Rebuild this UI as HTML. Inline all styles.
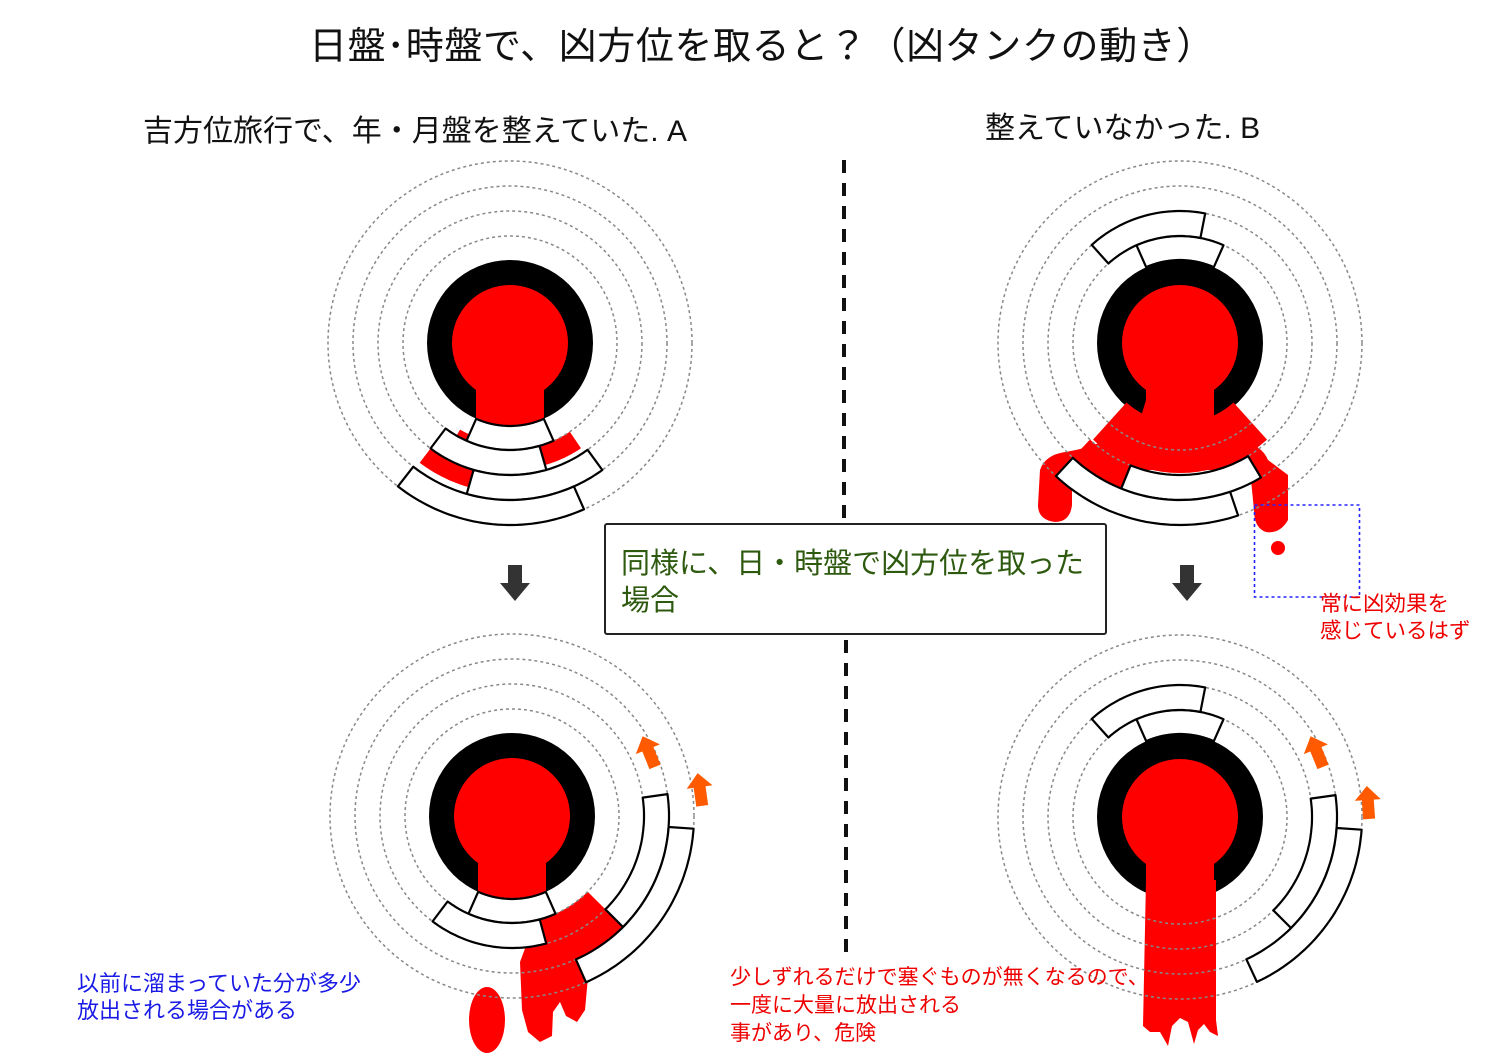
<!DOCTYPE html>
<html><head><meta charset="utf-8">
<style>
html,body{margin:0;padding:0;background:#fff;}
body{width:1500px;height:1061px;position:relative;overflow:hidden;font-family:"Liberation Sans","Noto Sans CJK JP",sans-serif;}
.t{position:absolute;white-space:nowrap;line-height:1;}
svg{position:absolute;left:0;top:0;}
</style></head><body>
<svg id="s" width="1500" height="1061" viewBox="0 0 1500 1061"></svg>
<div class="t" style="left:309px;top:28px;font-size:38px;letter-spacing:0.6px;color:#111;">日盤･時盤で、凶方位を取ると？（凶タンクの動き）</div>
<div class="t" style="left:143px;top:117px;font-size:30px;color:#111;">吉方位旅行で、年・月盤を整えていた. A</div>
<div class="t" style="left:985px;top:114px;font-size:30px;color:#111;">整えていなかった. B</div>
<div style="position:absolute;left:604px;top:523px;width:499px;height:108px;border:2px solid #222;border-radius:3px;background:#fff;"></div>
<div class="t" style="left:621px;top:546px;font-size:29px;color:#2e5a10;line-height:37px;">同様に、日・時盤で凶方位を取った<br>場合</div>
<div class="t" style="left:1320px;top:591px;font-size:21.5px;color:#e00;line-height:27px;">常に凶効果を<br>感じているはず</div>
<div class="t" style="left:77px;top:970px;font-size:22px;color:#1a1ae6;line-height:27px;">以前に溜まっていた分が多少<br>放出される場合がある</div>
<div class="t" style="left:730px;top:964px;font-size:21px;color:#e00;line-height:28px;">少しずれるだけで塞ぐものが無くなるので、<br>一度に大量に放出される<br>事があり、危険</div>
<script>
const S=document.getElementById('s');
let h='';
const R=[107,132,157,182];
function P(cx,cy,r,a){const t=a*Math.PI/180;return [cx+r*Math.sin(t),cy+r*Math.cos(t)];}
function sec(cx,cy,r1,r2,a1,a2,fill,stroke){
  let pts=[];const n=40;
  for(let i=0;i<=n;i++)pts.push(P(cx,cy,r2,a1+(a2-a1)*i/n));
  for(let i=n;i>=0;i--)pts.push(P(cx,cy,r1,a1+(a2-a1)*i/n));
  h+=`<polygon points="${pts.map(p=>p[0].toFixed(1)+','+p[1].toFixed(1)).join(' ')}" fill="${fill}" ${stroke?'stroke="#000" stroke-width="2.2" stroke-linejoin="round"':''}/>`;
}
function head(cx,cy,stemEnd){
  h+=`<circle cx="${cx}" cy="${cy}" r="83" fill="#000"/><circle cx="${cx}" cy="${cy}" r="58" fill="#f00"/>`;
  h+=`<rect x="${cx-34}" y="${cy}" width="68" height="${stemEnd-cy}" fill="#f00"/>`;
}
function rings(cx,cy){for(const r of R)h+=`<circle cx="${cx}" cy="${cy}" r="${r}" fill="none" stroke="#888" stroke-width="1.5" stroke-dasharray="3 3"/>`;}
function oarrow(x,y,rot){h+=`<polygon transform="translate(${x},${y}) rotate(${rot})" points="0,-17 13,-3 6,-3 6,16 -6,16 -6,-3 -13,-3" fill="#ff5a00"/>`;}
function darrow(x,y){h+=`<polygon transform="translate(${x},${y})" points="-7,-18 7,-18 7,0 15,0 0,18 -15,0 -7,0" fill="#333"/>`;}

h+=`<line x1="844" y1="160" x2="844" y2="522" stroke="#111" stroke-width="4" stroke-dasharray="13 10"/>`;
h+=`<line x1="846" y1="640" x2="846" y2="960" stroke="#111" stroke-width="4" stroke-dasharray="13 10"/>`;

// TL
let cx=510,cy=343;
head(cx,cy,425);
sec(cx,cy,132,150,-37,-16,'#f00');
sec(cx,cy,107,127,16,34,'#f00');
sec(cx,cy,100,110,-30,-22,'#f00');
rings(cx,cy);
sec(cx,cy,83,107,-24,24,'#fff',1);
sec(cx,cy,107,132,-37,16,'#fff',1);
sec(cx,cy,132,157,-16,36,'#fff',1);
sec(cx,cy,157,182,-38,24,'#fff',1);

// TR
cx=1180;cy=343;
head(cx,cy,430);
h+=`<path d="M1146,400 L1214,400 L1214,418 Q1235,420 1240,440 Q1262,445 1268,460 L1288,475 L1288,520 Q1280,534 1266,532 Q1254,528 1254,510 L1250,470 L1110,470 L1072,480 L1072,505 Q1070,522 1055,522 Q1038,520 1038,505 L1040,470 Q1045,455 1065,452 Q1090,448 1105,440 Q1125,428 1140,420 Z" fill="#f00"/>`;
sec(cx,cy,80,130,-42,42,'#f00');
sec(cx,cy,132,157,-43,-20,'#f00');
h+=`<circle cx="1278" cy="548" r="7" fill="#f00"/>`;
rings(cx,cy);
sec(cx,cy,83,107,156,204,'#fff',1);
sec(cx,cy,107,132,169,222,'#fff',1);
sec(cx,cy,132,157,-22,31,'#fff',1);
sec(cx,cy,157,182,-43,18.6,'#fff',1);
h+=`<rect x="1254.5" y="505" width="105" height="92" fill="none" stroke="#22f" stroke-width="1.6" stroke-dasharray="3 3"/>`;

// BL
cx=512;cy=816;
head(cx,cy,900);
sec(cx,cy,107,132,15,45,'#f00');
sec(cx,cy,132,157,22,45,'#f00');
h+=`<path d="M540,917 L605,912 L590,955 L585,1010 L577,1022 L566,1016 L560,1002 L553,1012 L552,1036 L540,1042 L528,1032 L522,1010 L520,962 L530,935 Z" fill="#f00"/>`;
h+=`<ellipse cx="487" cy="1020" rx="18" ry="33" fill="#f00"/>`;
rings(cx,cy);
sec(cx,cy,83,107,-24,24,'#fff',1);
sec(cx,cy,107,132,-37,15,'#fff',1);
sec(cx,cy,132,157,45,98,'#fff',1);
sec(cx,cy,157,182,24,86,'#fff',1);
oarrow(649,752,-22);oarrow(700,790,-8);

// BR
cx=1180;cy=817;
head(cx,cy,900);
h+=`<path d="M1146,880 L1216,880 L1216,1020 L1218,1036 L1210,1032 L1204,1024 L1198,1030 L1194,1044 L1188,1022 L1180,1018 L1172,1026 L1168,1046 L1160,1032 L1150,1032 L1143,1026 Z" fill="#f00"/>`;
rings(cx,cy);
sec(cx,cy,83,107,156,204,'#fff',1);
sec(cx,cy,107,132,169,222,'#fff',1);
sec(cx,cy,132,157,45,98,'#fff',1);
sec(cx,cy,157,182,25,86,'#fff',1);
oarrow(1317,752,-22);oarrow(1368,803,-4);

darrow(515,583);darrow(1187,583);
S.innerHTML=h;
</script>
</body></html>
